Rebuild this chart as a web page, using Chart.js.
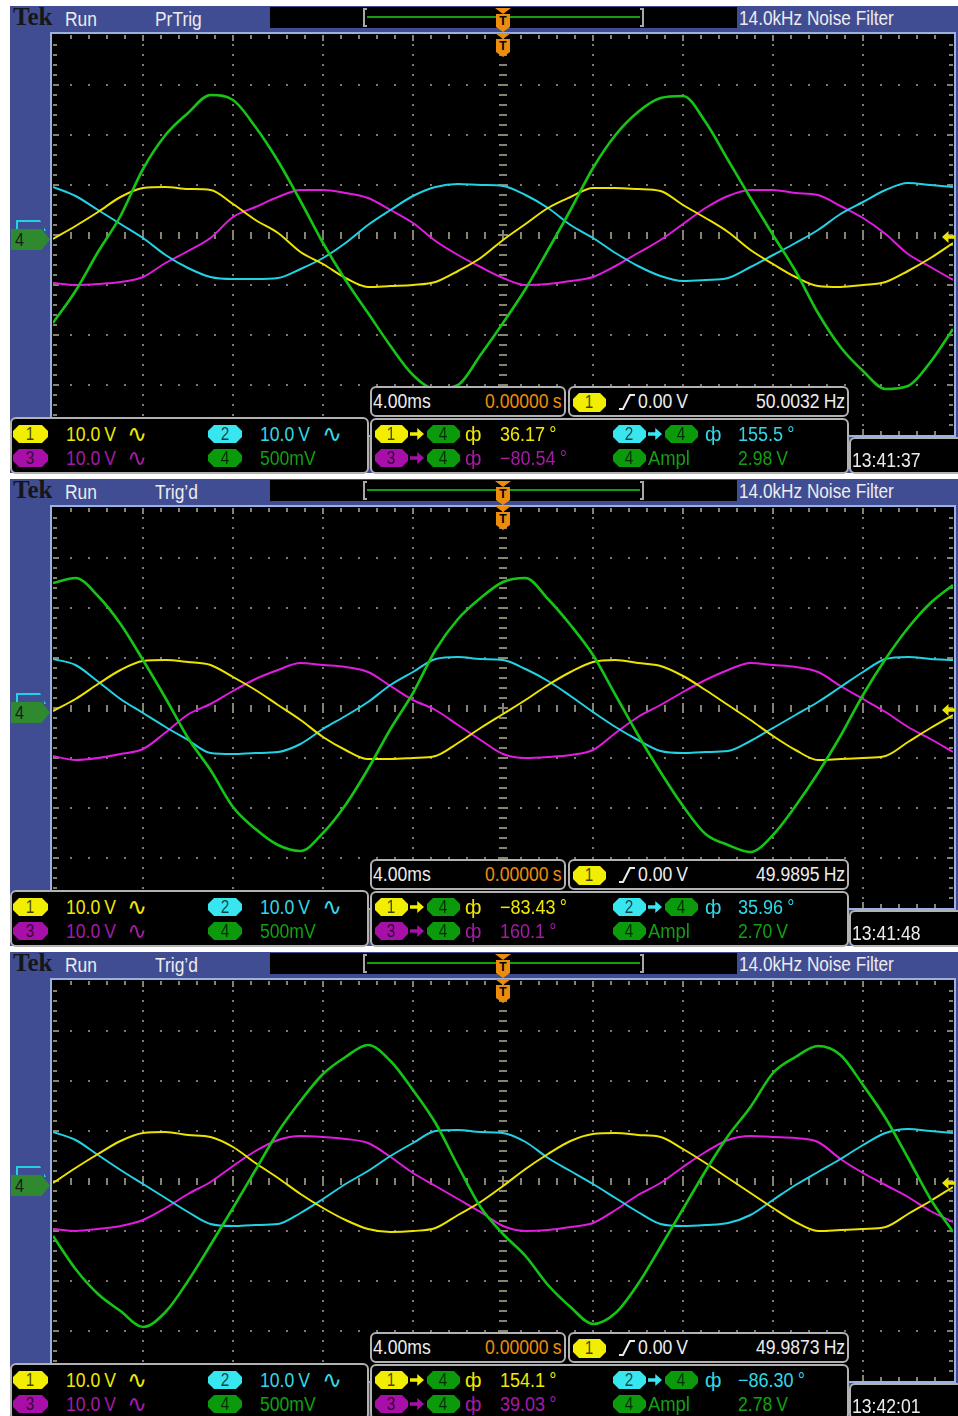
<!DOCTYPE html>
<html><head><meta charset="utf-8">
<script src="https://cdn.jsdelivr.net/npm/chart.js@4.4.1/dist/chart.umd.min.js"></script>
<style>
html,body{margin:0;padding:0;background:#fff;}
body{width:958px;height:1416px;overflow:hidden;position:relative;font-family:"Liberation Sans",Arial,sans-serif;}
.panel{position:absolute;left:0;width:958px;height:468px;overflow:visible;}
.a{position:absolute;}
.box{position:absolute;background:#000;border:2px solid #b2b2b2;border-radius:6px;box-sizing:border-box;}
.pill{position:absolute;display:flex;align-items:center;justify-content:center;font-size:18px;color:rgba(0,0,0,0.72);
 clip-path:polygon(6px 0,calc(100% - 6px) 0,100% 6px,100% calc(100% - 6px),calc(100% - 6px) 100%,6px 100%,0 calc(100% - 6px),0 6px);}
</style></head><body>
<script>
// ---------------- data ----------------
const timeMs = [-20,-19,-18,-17,-16,-15,-14,-13,-12,-11,-10,-9,-8,-7,-6,-5,-4,-3,-2,-1,0,1,2,3,4,5,6,7,8,9,10,11,12,13,14,15,16,17,18,19,20];
const voltsPerDiv = [10, 10, 10, 0.5];

// Screen 1 (13:41:37)
const p1Ch1 = [-0.8,1.8,4.6,7.6,9.4,9.6,9.2,9.0,6.2,3.0,0.4,-3.4,-5.8,-8.6,-10.4,-10.2,-10.0,-9.4,-7.2,-4.6,-1.0,2.2,5.4,7.6,9.4,9.4,9.2,8.8,6.0,3.4,0.6,-3.0,-5.8,-8.4,-10.2,-10.4,-10.0,-9.4,-7.2,-4.6,-1.6];
const p1Ch2 = [9.6,7.8,5.0,2.2,-0.6,-4.0,-6.6,-8.4,-8.8,-8.8,-8.6,-6.8,-4.6,-1.6,2.0,5.0,7.8,9.6,10.2,10.0,9.8,8.0,5.4,2.0,-0.6,-3.6,-6.2,-8.2,-9.2,-9.0,-8.6,-6.4,-4.0,-1.6,1.0,4.2,6.6,9.0,10.4,10.0,9.6];
const p1Ch3 = [-9.6,-10.0,-9.8,-9.4,-8.4,-5.6,-3.2,-0.6,3.6,5.6,7.6,9.0,9.0,8.4,7.4,5.0,2.4,-1.2,-4.0,-6.4,-8.6,-10.0,-9.8,-9.2,-8.4,-6.2,-3.6,-1.0,2.2,5.4,7.8,9.0,9.0,8.4,8.0,5.8,3.4,0.2,-3.8,-6.4,-9.0];
const p1Ch4 = [-0.88,-0.56,-0.17,0.19,0.66,1.00,1.22,1.40,1.35,1.08,0.74,0.34,-0.08,-0.45,-0.78,-1.11,-1.40,-1.54,-1.50,-1.20,-0.88,-0.54,-0.15,0.25,0.67,1.00,1.23,1.37,1.39,1.13,0.75,0.37,0.00,-0.36,-0.78,-1.12,-1.36,-1.54,-1.51,-1.27,-0.94];

// Screen 2 (13:41:48)
const p2Ch1 = [-0.6,1.8,4.8,7.6,9.4,9.6,9.2,8.6,6.2,3.6,0.6,-2.4,-5.8,-8.4,-10.2,-10.2,-10.0,-9.6,-7.0,-4.0,-1.2,1.6,4.6,7.2,9.2,9.6,9.0,8.4,6.4,3.6,0.6,-2.4,-5.6,-8.4,-10.4,-10.2,-10.0,-9.6,-6.8,-4.0,-1.4];
const p2Ch2 = [9.8,8.6,5.3,1.8,-1.0,-3.8,-6.4,-9.0,-9.2,-9.0,-8.8,-7.2,-4.2,-1.6,1.2,4.6,7.2,9.8,10.2,9.8,9.6,7.8,5.4,2.4,-0.8,-3.8,-6.4,-8.6,-9.0,-8.8,-8.6,-6.6,-4.0,-1.4,1.2,4.2,7.2,9.8,10.2,9.8,9.6];
const p2Ch3 = [-9.6,-10.4,-10.0,-9.2,-8.2,-4.9,-1.3,0.8,3.4,5.8,7.6,9.0,8.6,8.2,7.2,4.4,1.6,-0.4,-3.4,-6.4,-9.2,-10.0,-9.8,-9.4,-8.4,-5.0,-1.8,0.6,3.2,5.6,7.6,9.0,8.6,8.2,7.2,4.4,1.8,-0.8,-3.8,-6.2,-8.8];
const p2Ch4 = [1.25,1.30,1.12,0.84,0.48,0.10,-0.30,-0.62,-0.99,-1.21,-1.37,-1.43,-1.25,-0.97,-0.61,-0.21,0.15,0.58,0.89,1.10,1.26,1.30,1.09,0.83,0.53,0.13,-0.27,-0.64,-0.98,-1.26,-1.37,-1.44,-1.27,-0.98,-0.65,-0.28,0.13,0.49,0.80,1.05,1.23];

// Screen 3 (13:42:01)
const p3Ch1 = [-0.4,2.6,5.4,8.0,9.6,9.8,9.2,8.8,6.8,3.6,0.6,-2.6,-5.4,-7.8,-9.6,-10.2,-10.0,-9.4,-6.8,-4.2,-1.0,2.4,5.4,8.0,9.4,9.6,9.2,8.8,6.4,3.6,0.6,-2.4,-5.4,-8.2,-10.0,-9.8,-9.6,-9.2,-6.6,-4.0,-1.2];
const p3Ch2 = [9.8,8.2,5.2,2.2,-0.6,-3.4,-6.2,-8.6,-9.0,-8.8,-8.6,-6.4,-3.6,-0.6,2.0,5.0,7.6,10.0,10.2,9.8,9.6,7.8,4.6,2.0,-0.6,-3.4,-6.2,-8.6,-9.0,-8.8,-8.4,-6.8,-3.8,-0.8,1.8,4.4,7.2,9.6,10.4,10.0,9.6];
const p3Ch3 = [-9.6,-10.0,-9.6,-9.0,-7.8,-5.4,-2.6,-0.2,3.0,6.0,8.2,9.0,8.8,8.4,7.6,4.8,1.6,-1.0,-3.6,-6.2,-9.0,-10.0,-9.8,-9.2,-8.4,-5.8,-2.8,-0.4,2.8,5.8,8.2,9.0,8.8,8.6,7.8,4.4,1.6,-0.8,-3.2,-6.0,-8.2];
const p3Ch4 = [-0.55,-0.88,-1.13,-1.30,-1.46,-1.31,-1.00,-0.64,-0.27,0.11,0.49,0.80,1.07,1.24,1.36,1.20,0.91,0.58,0.15,-0.26,-0.53,-0.75,-1.04,-1.26,-1.43,-1.32,-1.03,-0.66,-0.28,0.10,0.45,0.74,1.08,1.24,1.35,1.26,0.96,0.63,0.23,-0.18,-0.51];

// texts
const statusText = ['PrTrig', 'Trig’d', 'Trig’d'];
const phase14 = ['36.17 °', '−83.43 °', '154.1 °'];
const phase24 = ['155.5 °', '35.96 °', '−86.30 °'];
const phase34 = ['−80.54 °', '160.1 °', '39.03 °'];
const ampl4 = ['2.98 V', '2.70 V', '2.78 V'];
const trigFreq = ['50.0032 Hz', '49.9895 Hz', '49.9873 Hz'];
const timestamps = ['13:41:37', '13:41:48', '13:42:01'];
const screens = [[p1Ch1,p1Ch2,p1Ch3,p1Ch4],[p2Ch1,p2Ch2,p2Ch3,p2Ch4],[p3Ch1,p3Ch2,p3Ch3,p3Ch4]];

// ---------------- drawing ----------------
const COL = {
  blue:'#414d93', frame:'#9ab2e2', white:'#ececec', orange:'#ec8c0c',
  yTxt:'#f0e800', cTxt:'#30d8e8', mTxt:'#a61aa6', gTxt:'#12a012',
  yPill:'#f2ee00', cPill:'#38e6f0', mPill:'#a80ea8', gPill:'#0b9a0b',
  yTr:'#ece400', cTr:'#22d2e4', mTr:'#e01ce0', gTr:'#16c416'
};
const panelTops = [6, 479, 952];

function div(p, css, cls) {
  const d = document.createElement('div');
  d.className = cls || 'a';
  d.style.cssText += css;
  p.appendChild(d);
  return d;
}
function txt(p, x, cap, s, color, opt) {
  opt = opt || {};
  const size = opt.size || 20, sx = opt.sx || 0.88;
  const d = document.createElement('div');
  d.textContent = s;
  d.style.cssText = 'position:absolute;white-space:nowrap;font-family:' + (opt.font || '"Liberation Sans",Arial,sans-serif') +
    ';font-size:' + size + 'px;line-height:' + size + 'px;color:' + color + ';transform-origin:0 0;transform:scaleX(' + sx + ');top:' +
    (cap - (opt.capK || 0.13) * size) + 'px;left:' + x + 'px;' + (opt.ws ? 'word-spacing:' + opt.ws + 'px;' : '') + (opt.extra || '');
  p.appendChild(d);
  if (opt.right) d.style.left = (x - d.offsetWidth * sx) + 'px';
  return d;
}
function pill(p, x1, y1, x2, y2, fill, label) {
  const d = div(p, 'left:' + x1 + 'px;top:' + y1 + 'px;width:' + (x2 - x1) + 'px;height:' + (y2 - y1) + 'px;background:' + fill + ';', 'pill');
  const s = document.createElement('span');
  s.textContent = label;
  s.style.cssText = 'display:inline-block;transform:scaleX(0.85);';
  d.appendChild(s);
}
function arrow(p, x, y, color) {
  div(p, 'left:' + x + 'px;top:' + y + 'px;width:14px;height:14px;background:' + color +
    ';clip-path:polygon(0 38%,52% 38%,52% 8%,100% 50%,52% 92%,52% 62%,0 62%);');
}
function marker(p, x, y) {
  div(p, 'left:' + (x - 8) + 'px;top:' + y + 'px;width:16px;height:6px;background:' + COL.orange + ';clip-path:polygon(0 0,100% 0,50% 100%);');
  const b = div(p, 'left:' + (x - 7) + 'px;top:' + (y + 6) + 'px;width:14px;height:18px;background:' + COL.orange +
    ';clip-path:polygon(0 0,100% 0,100% 72%,50% 100%,0 72%);color:#000;font:bold 12px "Liberation Sans",Arial;text-align:center;line-height:14px;');
  b.textContent = 'T';
}

const graticule = {
  id: 'graticule',
  beforeDatasetsDraw(chart) {
    const ctx = chart.ctx, xs = chart.scales.x, ys = chart.scales.y;
    const X = v => Math.round(xs.getPixelForValue(v)), Y = v => Math.round(ys.getPixelForValue(v));
    ctx.save();
    ctx.fillStyle = '#7a7a7a';
    for (let i = 1; i < 10; i++) {
      if (i === 5) continue;
      const px = X(-20 + 4 * i);
      for (let j = 1; j < 40; j++) ctx.fillRect(px - 1, Y(-4 + j * 0.2) - 1, 2, 2);
    }
    for (let k = 1; k < 8; k++) {
      if (k === 4) continue;
      const py = Y(-4 + k);
      for (let j = 1; j < 50; j++) ctx.fillRect(X(-20 + j * 0.8) - 1, py - 1, 2, 2);
    }
    ctx.fillStyle = '#858372';
    const cy = Y(0), cx = X(0), top = Y(4), bot = Y(-4), lft = X(-20), rgt = X(20);
    for (let j = 1; j < 50; j++) {
      const px = X(-20 + j * 0.8);
      const major = j % 5 === 0;
      ctx.fillRect(px - 1, cy - (major ? 5 : 3), 2, major ? 10 : 7);
      ctx.fillRect(px - 1, top, 2, major ? 6 : 4);
      ctx.fillRect(px - 1, bot - (major ? 6 : 4), 2, major ? 6 : 4);
    }
    for (let j = 1; j < 40; j++) {
      const py = Y(-4 + j * 0.2);
      const major = j % 5 === 0;
      ctx.fillRect(cx - (major ? 5 : 4), py - 1, major ? 10 : 8, 2);
      ctx.fillRect(lft, py - 1, major ? 6 : 4, 2);
      ctx.fillRect(rgt - (major ? 6 : 4), py - 1, major ? 6 : 4, 2);
    }
    ctx.restore();
  }
};

function series(vals, ch) {
  return timeMs.map((t, i) => ({ x: t, y: vals[i] / voltsPerDiv[ch] }));
}

const WAVE = { font: '"DejaVu Sans",sans-serif', sx: 1, size: 24 };

screens.forEach((sc, n) => {
  const p = div(document.body, 'top:' + panelTops[n] + 'px;', 'panel');
  // background
  div(p, 'left:10px;top:0;width:948px;height:467px;background:' + COL.blue + ';');
  // top bar
  txt(p, 13, 2, 'Tek', '#161616', { size: 25, sx: 1, capK: 0.1755, font: '"Liberation Serif","DejaVu Serif",serif', extra: 'font-weight:bold;' });
  txt(p, 65, 6, 'Run', COL.white, { sx: 0.87 });
  txt(p, 155, 6, statusText[n], COL.white, { sx: 0.87 });
  div(p, 'left:270px;top:1px;width:467px;height:21px;background:#000;');
  div(p, 'left:363px;top:2px;width:4px;height:19px;border:2px solid #a8a8a8;border-right:none;box-sizing:border-box;');
  div(p, 'left:640px;top:2px;width:4px;height:19px;border:2px solid #a8a8a8;border-left:none;box-sizing:border-box;');
  div(p, 'left:367px;top:10px;width:273px;height:2px;background:#12a012;');
  txt(p, 739, 5, '14.0kHz  Noise Filter', COL.white, { sx: 0.86 });
  // plot frame
  div(p, 'left:50px;top:26px;width:906px;height:405px;border:2px solid ' + COL.frame + ';background:#000;box-sizing:border-box;');
  const cv = document.createElement('canvas');
  cv.width = 900; cv.height = 400;
  cv.style.cssText = 'position:absolute;left:53px;top:29px;width:900px;height:400px;';
  p.appendChild(cv);
  new Chart(cv, {
    type: 'line',
    data: {
      datasets: [
        { label: 'CH4', data: series(sc[3], 3), borderColor: COL.gTr, borderWidth: 2.6 },
        { label: 'CH1', data: series(sc[0], 0), borderColor: COL.yTr, borderWidth: 2 },
        { label: 'CH2', data: series(sc[1], 1), borderColor: COL.cTr, borderWidth: 2 },
        { label: 'CH3', data: series(sc[2], 2), borderColor: COL.mTr, borderWidth: 2 }
      ]
    },
    options: {
      responsive: false, animation: false, devicePixelRatio: 1,
      layout: { padding: 0 },
      elements: { point: { radius: 0 }, line: { cubicInterpolationMode: 'monotone', borderJoinStyle: 'round', fill: false } },
      scales: {
        x: { type: 'linear', min: -20, max: 20, display: false },
        y: { type: 'linear', min: -4, max: 4, display: false }
      },
      plugins: { legend: { display: false }, tooltip: { enabled: false } }
    },
    plugins: [graticule]
  });
  // trigger position markers
  marker(p, 503, 2);
  marker(p, 503, 27);
  // left channel markers
  div(p, 'left:16px;top:214px;width:30px;height:11px;border:2px solid ' + COL.cTr + ';border-bottom:none;box-sizing:border-box;clip-path:polygon(0 0,80% 0,100% 100%,0 100%);');
  div(p, 'left:11px;top:223px;width:39px;height:21px;background:#2f8a2f;clip-path:polygon(0 0,78% 0,100% 50%,78% 100%,0 100%);');
  txt(p, 15, 227, '4', '#1a1a1a', { size: 18, sx: 0.9 });
  // trigger level arrow (right)
  div(p, 'left:942px;top:225px;width:13px;height:12px;background:' + COL.yTr + ';clip-path:polygon(0 50%,50% 0,50% 35%,100% 35%,100% 65%,50% 65%,50% 100%);');

  // ---- readout boxes ----
  div(p, 'left:370px;top:380px;width:196px;height:31px;', 'box');
  txt(p, 373, 388, '4.00ms', COL.white);
  txt(p, 562, 388, '0.00000 s', COL.orange, { right: true, ws: -1 });
  div(p, 'left:568px;top:380px;width:281px;height:31px;', 'box');
  pill(p, 573, 387, 606, 406, COL.yPill, '1');
  const ns = 'http://www.w3.org/2000/svg';
  const svg = document.createElementNS(ns, 'svg');
  svg.setAttribute('width', '18'); svg.setAttribute('height', '18');
  svg.style.cssText = 'position:absolute;left:618px;top:387px;';
  const pl = document.createElementNS(ns, 'polyline');
  pl.setAttribute('points', '1,16 5,16 12,2 17,2');
  pl.setAttribute('fill', 'none'); pl.setAttribute('stroke', COL.white); pl.setAttribute('stroke-width', '2');
  svg.appendChild(pl); p.appendChild(svg);
  txt(p, 638, 388, '0.00 V', COL.white, { ws: -1 });
  txt(p, 845, 388, trigFreq[n], COL.white, { right: true, ws: -1 });

  // channel settings
  div(p, 'left:10px;top:411px;width:359px;height:57px;', 'box');
  pill(p, 13, 419, 48, 437, COL.yPill, '1');
  txt(p, 66, 421, '10.0 V', COL.yTxt, { ws: -1 });
  txt(p, 127, 419, '∿', COL.yTxt, WAVE);
  pill(p, 208, 419, 242, 437, COL.cPill, '2');
  txt(p, 260, 421, '10.0 V', COL.cTxt, { ws: -1 });
  txt(p, 322, 419, '∿', COL.cTxt, WAVE);
  pill(p, 13, 443, 48, 461, COL.mPill, '3');
  txt(p, 66, 445, '10.0 V', COL.mTxt, { ws: -1 });
  txt(p, 127, 443, '∿', COL.mTxt, WAVE);
  pill(p, 208, 443, 242, 461, COL.gPill, '4');
  txt(p, 260, 445, '500mV', COL.gTxt);

  // measurements
  div(p, 'left:370px;top:412px;width:479px;height:56px;', 'box');
  pill(p, 375, 419, 408, 437, COL.yPill, '1');
  arrow(p, 410, 421, COL.yPill);
  pill(p, 427, 419, 460, 437, COL.gPill, '4');
  txt(p, 465, 421, 'ф', COL.yTxt, { sx: 1 });
  txt(p, 500, 421, phase14[n], COL.yTxt, { ws: -1, sx: 0.9 });
  pill(p, 613, 419, 646, 437, COL.cPill, '2');
  arrow(p, 648, 421, COL.cPill);
  pill(p, 665, 419, 698, 437, COL.gPill, '4');
  txt(p, 705, 421, 'ф', COL.cTxt, { sx: 1 });
  txt(p, 738, 421, phase24[n], COL.cTxt, { ws: -1, sx: 0.9 });
  pill(p, 375, 443, 408, 461, COL.mPill, '3');
  arrow(p, 410, 445, COL.mPill);
  pill(p, 427, 443, 460, 461, COL.gPill, '4');
  txt(p, 465, 445, 'ф', COL.mTxt, { sx: 1 });
  txt(p, 500, 445, phase34[n], COL.mTxt, { ws: -1, sx: 0.9 });
  pill(p, 613, 443, 646, 461, COL.gPill, '4');
  txt(p, 648, 445, 'Ampl', COL.gTxt, { sx: 0.92 });
  txt(p, 738, 445, ampl4[n], COL.gTxt, { ws: -1 });

  // timestamp
  div(p, 'left:849px;top:431px;width:120px;height:37px;', 'box');
  txt(p, 852, 447, timestamps[n], COL.white);
});
</script>
</body></html>
